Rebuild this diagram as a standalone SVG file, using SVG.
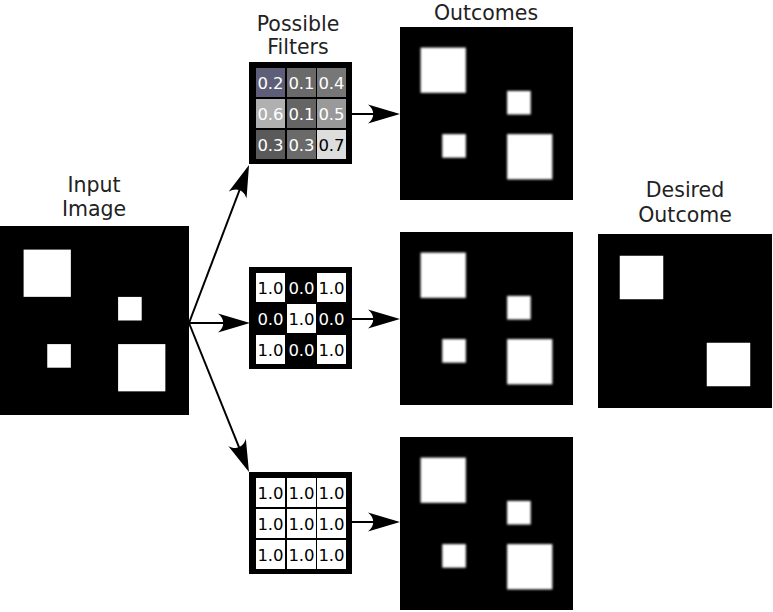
<svg xmlns="http://www.w3.org/2000/svg" width="773" height="612" viewBox="0 0 773 612">
<style>
.lbl{font-family:"DejaVu Sans","Liberation Sans",sans-serif;font-size:20.5px;fill:#222;text-anchor:middle}
.num{font-family:"DejaVu Sans","Liberation Sans",sans-serif;font-size:16.5px;text-anchor:middle}
.w{fill:#fff}
.k{fill:#000}
.img{fill:#000}
.sq{fill:#fff}
.conn{stroke:#000;stroke-width:2;fill:none}
</style>
<defs>
<filter id="blur" x="-20%" y="-20%" width="140%" height="140%">
<feGaussianBlur stdDeviation="1.3"/>
</filter>
<marker id="ah" markerUnits="userSpaceOnUse" markerWidth="40" markerHeight="24" viewBox="-34 -12 36 24" refX="-8" refY="0" orient="auto" overflow="visible">
<path d="M0,0 L-32,-9.5 C-25,-4 -25,4 -32,9.5 Z" fill="#000"/>
</marker>
</defs>
<rect width="773" height="612" fill="#fff"/>

<g id="input-image">
<text class="lbl" x="94" y="192">Input</text>
<text class="lbl" x="94" y="216">Image</text>
<rect class="img" x="0" y="226" width="189" height="189"/>
<rect class="sq" x="23.6" y="249.6" width="47.25" height="47.25"/>
<rect class="sq" x="118.1" y="296.9" width="23.6" height="23.6"/>
<rect class="sq" x="47.25" y="344.1" width="23.6" height="23.6"/>
<rect class="sq" x="118.1" y="344.1" width="47.25" height="47.25"/>
</g>

<g id="filter-1">
<text class="lbl" x="298" y="31">Possible</text>
<text class="lbl" x="298" y="54">Filters</text>
<rect x="249" y="62" width="103" height="102" fill="#000"/>
<rect x="256" y="68" width="29" height="29" fill="#5e5e78"/>
<rect x="287" y="68" width="29" height="29" fill="#6a6a6a"/>
<rect x="317" y="68" width="29" height="29" fill="#777"/>
<rect x="256" y="99" width="29" height="29" fill="#b0b0b0"/>
<rect x="287" y="99" width="29" height="29" fill="#656565"/>
<rect x="317" y="99" width="29" height="29" fill="#999"/>
<rect x="256" y="130" width="29" height="29" fill="#5a5a5a"/>
<rect x="287" y="130" width="29" height="29" fill="#6a6a6a"/>
<rect x="317" y="130" width="29" height="29" fill="#ddd"/>
<text class="num w" x="270.5" y="88.5">0.2</text>
<text class="num w" x="301.5" y="88.5">0.1</text>
<text class="num w" x="331.5" y="88.5">0.4</text>
<text class="num w" x="270.5" y="119.5">0.6</text>
<text class="num w" x="301.5" y="119.5">0.1</text>
<text class="num w" x="331.5" y="119.5">0.5</text>
<text class="num w" x="270.5" y="150.5">0.3</text>
<text class="num w" x="301.5" y="150.5">0.3</text>
<text class="num k" x="331.5" y="150.5">0.7</text>
</g>

<g id="filter-2">
<rect x="249" y="267" width="103" height="102" fill="#000"/>
<rect x="256" y="273" width="29" height="29" fill="#fff"/>
<rect x="317" y="273" width="29" height="29" fill="#fff"/>
<rect x="287" y="304" width="29" height="29" fill="#fff"/>
<rect x="256" y="335" width="29" height="29" fill="#fff"/>
<rect x="317" y="335" width="29" height="29" fill="#fff"/>
<text class="num k" x="270.5" y="293.5">1.0</text>
<text class="num w" x="301.5" y="293.5">0.0</text>
<text class="num k" x="331.5" y="293.5">1.0</text>
<text class="num w" x="270.5" y="324.5">0.0</text>
<text class="num k" x="301.5" y="324.5">1.0</text>
<text class="num w" x="331.5" y="324.5">0.0</text>
<text class="num k" x="270.5" y="355.5">1.0</text>
<text class="num w" x="301.5" y="355.5">0.0</text>
<text class="num k" x="331.5" y="355.5">1.0</text>
</g>

<g id="filter-3">
<rect x="249" y="472" width="103" height="102" fill="#000"/>
<rect x="256" y="478" width="29" height="29" fill="#fff"/>
<rect x="287" y="478" width="29" height="29" fill="#fff"/>
<rect x="317" y="478" width="29" height="29" fill="#fff"/>
<rect x="256" y="509" width="29" height="29" fill="#fff"/>
<rect x="287" y="509" width="29" height="29" fill="#fff"/>
<rect x="317" y="509" width="29" height="29" fill="#fff"/>
<rect x="256" y="540" width="29" height="29" fill="#fff"/>
<rect x="287" y="540" width="29" height="29" fill="#fff"/>
<rect x="317" y="540" width="29" height="29" fill="#fff"/>
<text class="num k" x="270.5" y="498.5">1.0</text>
<text class="num k" x="301.5" y="498.5">1.0</text>
<text class="num k" x="331.5" y="498.5">1.0</text>
<text class="num k" x="270.5" y="529.5">1.0</text>
<text class="num k" x="301.5" y="529.5">1.0</text>
<text class="num k" x="331.5" y="529.5">1.0</text>
<text class="num k" x="270.5" y="560.5">1.0</text>
<text class="num k" x="301.5" y="560.5">1.0</text>
<text class="num k" x="331.5" y="560.5">1.0</text>
</g>

<g id="outcome-1">
<text class="lbl" x="486" y="20">Outcomes</text>
<rect class="img" x="400" y="27" width="173" height="173"/>
<g filter="url(#blur)">
<rect class="sq" x="420.6" y="47.6" width="45.25" height="45.25"/>
<rect class="sq" x="507.1" y="90.9" width="23.6" height="23.6"/>
<rect class="sq" x="442.25" y="134.1" width="23.6" height="23.6"/>
<rect class="sq" x="507.1" y="134.1" width="45.25" height="45.25"/>
</g>
</g>

<g id="outcome-2">
<rect class="img" x="400" y="232" width="173" height="173"/>
<g filter="url(#blur)">
<rect class="sq" x="420.6" y="252.6" width="45.25" height="45.25"/>
<rect class="sq" x="507.1" y="295.9" width="23.6" height="23.6"/>
<rect class="sq" x="442.25" y="339.1" width="23.6" height="23.6"/>
<rect class="sq" x="507.1" y="339.1" width="45.25" height="45.25"/>
</g>
</g>

<g id="outcome-3">
<rect class="img" x="400" y="437" width="173" height="173"/>
<g filter="url(#blur)">
<rect class="sq" x="420.6" y="457.6" width="45.25" height="45.25"/>
<rect class="sq" x="507.1" y="500.9" width="23.6" height="23.6"/>
<rect class="sq" x="442.25" y="544.1" width="23.6" height="23.6"/>
<rect class="sq" x="507.1" y="544.1" width="45.25" height="45.25"/>
</g>
</g>

<g id="desired-outcome">
<text class="lbl" x="685" y="197">Desired</text>
<text class="lbl" x="685" y="222">Outcome</text>
<rect class="img" x="598" y="234" width="174" height="174"/>
<rect class="sq" x="619.75" y="255.75" width="43.5" height="43.5"/>
<rect class="sq" x="706.75" y="342.75" width="43.5" height="43.5"/>
</g>

<g id="connectors">
<line class="conn" x1="189" y1="323" x2="246.2" y2="172.5" marker-end="url(#ah)"/>
<line class="conn" x1="189" y1="323" x2="242" y2="323" marker-end="url(#ah)"/>
<line class="conn" x1="189" y1="323" x2="246" y2="464.6" marker-end="url(#ah)"/>
<line class="conn" x1="352" y1="114" x2="392" y2="114" marker-end="url(#ah)"/>
<line class="conn" x1="352" y1="319" x2="392" y2="319" marker-end="url(#ah)"/>
<line class="conn" x1="352" y1="522" x2="392" y2="522" marker-end="url(#ah)"/>
</g>
</svg>
